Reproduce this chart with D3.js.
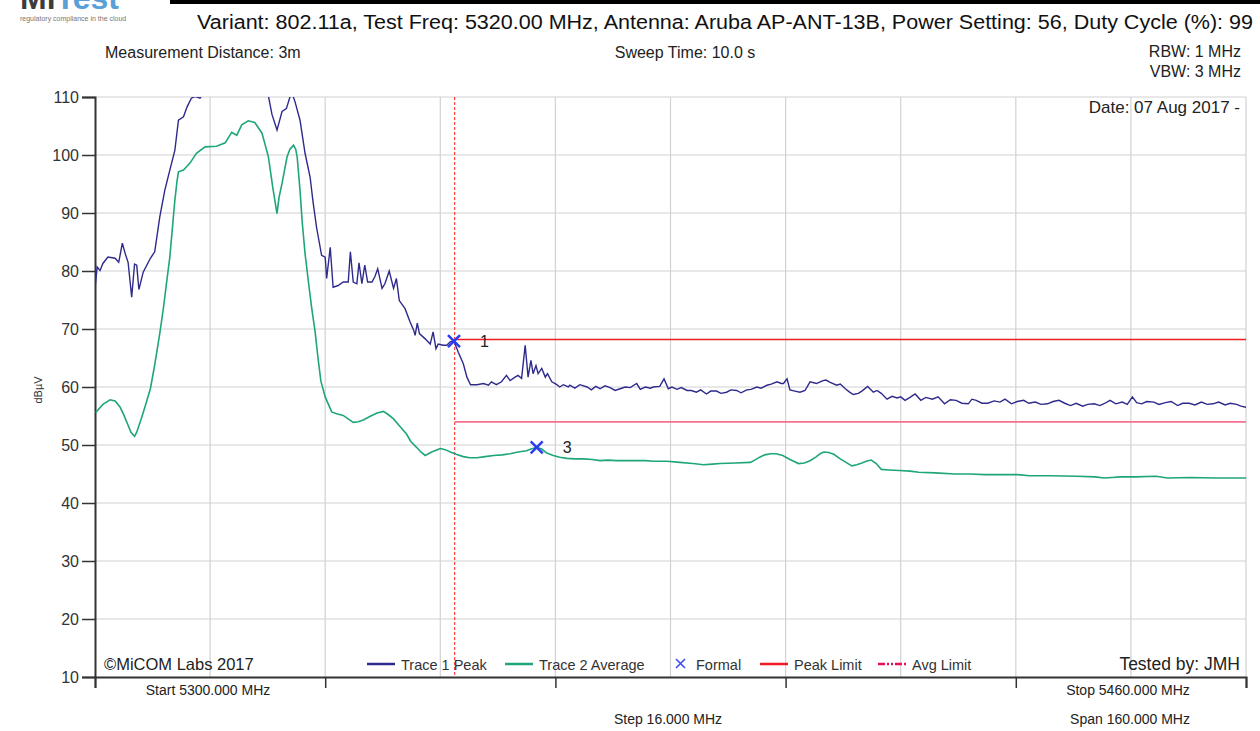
<!DOCTYPE html>
<html>
<head>
<meta charset="utf-8">
<script src="https://cdn.jsdelivr.net/npm/d3@7/dist/d3.min.js"></script>
<style>
body { margin: 0; background: #fff; }
svg text { font-family: "Liberation Sans", Arial, sans-serif; }
</style>
</head>
<body>
<script>

// Trace 1 Peak (MHz, dBuV)
var peakFreq = [5300.0,5300.3,5300.7,5301.1,5301.8,5302.8,5303.3,5303.8,5304.2,5304.6,5305.1,5305.5,5305.8,5306.1,5306.7,5307.7,5308.3,5309.0,5309.7,5310.4,5311.1,5311.6,5312.3,5312.8,5313.4,5313.9,5314.6,5315.2,5316.5,5318.5,5320.5,5322.5,5323.6,5324.1,5324.6,5325.3,5326.0,5326.6,5327.1,5327.4,5327.8,5328.5,5329.2,5329.9,5330.3,5330.8,5331.5,5332.0,5332.2,5332.7,5333.1,5333.8,5334.5,5335.2,5335.5,5335.9,5336.4,5336.7,5337.1,5337.5,5337.9,5338.5,5338.9,5339.3,5339.9,5340.3,5340.9,5341.5,5341.9,5342.3,5343.1,5343.8,5344.3,5344.5,5344.8,5345.1,5345.9,5346.6,5347.0,5347.4,5347.7,5348.4,5348.9,5349.4,5349.9,5350.5,5351.2,5351.7,5352.2,5353.1,5354.0,5354.7,5355.1,5355.8,5356.5,5357.2,5357.7,5358.4,5358.8,5359.3,5359.8,5360.2,5360.6,5360.9,5361.3,5361.6,5362.1,5362.6,5362.9,5363.5,5364.2,5364.6,5365.1,5365.8,5366.0,5366.7,5367.4,5368.4,5369.0,5369.6,5370.2,5370.9,5371.6,5372.3,5373.0,5373.7,5374.4,5375.3,5375.8,5376.5,5377.2,5377.6,5378.5,5379.1,5379.7,5380.2,5380.9,5381.5,5382.3,5382.9,5383.6,5384.2,5385.0,5385.6,5386.4,5387.0,5387.8,5388.4,5389.2,5389.8,5390.6,5391.2,5392.0,5392.6,5393.4,5394.0,5394.8,5395.4,5395.7,5396.2,5396.6,5397.3,5398.0,5398.7,5399.4,5400.3,5400.8,5401.2,5401.6,5402.2,5403.1,5403.6,5404.3,5404.8,5405.4,5406.1,5406.6,5407.4,5408.2,5408.7,5409.3,5410.1,5410.8,5411.5,5412.0,5412.6,5413.3,5414.0,5414.8,5415.5,5416.4,5417.2,5418.1,5418.9,5419.7,5420.5,5421.4,5421.9,5422.5,5423.3,5424.1,5425.0,5425.8,5426.5,5427.4,5428.2,5429.1,5429.8,5430.7,5431.5,5432.4,5433.2,5434.0,5434.8,5435.6,5436.4,5437.3,5438.0,5438.9,5439.7,5440.4,5441.1,5441.9,5442.8,5443.5,5444.2,5444.8,5445.5,5446.2,5447.2,5447.9,5448.8,5449.6,5450.5,5451.2,5452.1,5452.9,5453.8,5454.6,5455.4,5456.2,5457.1,5457.8,5458.7,5459.3,5460.0];
var peakLevel = [77.0,80.7,80.1,81.3,82.4,82.2,81.5,84.8,83.0,81.5,75.5,81.2,81.0,76.8,79.8,82.2,83.3,89.3,93.9,97.4,100.8,106.0,106.6,108.3,109.8,110.1,109.8,111.0,113.5,115.0,115.5,114.0,111.5,110.2,107.0,104.3,107.5,108.0,110.0,110.6,109.2,106.0,100.3,96.2,92.0,87.5,82.7,82.4,78.7,84.1,77.2,77.5,78.1,78.1,83.3,78.1,77.8,81.4,77.8,81.0,78.1,78.1,79.0,80.4,77.0,77.8,80.0,77.0,78.7,74.9,73.5,71.2,69.8,68.9,71.0,69.2,68.3,67.4,69.5,66.6,67.4,67.2,67.2,67.8,67.9,66.0,64.0,61.7,60.4,60.4,60.6,60.3,60.9,60.4,60.9,62.0,61.1,61.7,62.0,61.5,67.2,61.7,64.6,62.3,63.7,62.3,63.2,61.7,62.3,60.9,60.4,60.0,60.4,60.0,60.3,59.8,60.4,60.0,59.5,60.1,59.7,60.2,59.9,59.4,59.7,60.0,59.9,60.6,59.6,60.0,59.8,60.0,60.1,61.4,59.7,60.0,59.6,59.9,59.4,59.4,59.1,59.5,58.8,59.3,59.3,58.9,59.1,59.5,59.4,59.0,59.5,59.6,60.0,59.8,60.3,60.5,60.9,60.6,60.6,61.4,59.5,59.3,59.1,59.4,60.9,60.6,60.9,61.1,61.2,60.8,60.3,60.5,59.7,59.2,58.7,58.9,59.3,60.1,59.1,59.4,58.9,57.9,58.4,58.1,58.3,57.7,58.2,58.8,57.7,58.2,57.9,58.3,57.1,57.8,57.7,57.2,57.1,57.9,57.7,57.2,57.2,57.6,57.4,57.9,57.1,57.5,57.7,57.2,57.4,57.0,57.1,57.5,57.7,57.2,56.8,57.2,56.7,57.0,57.1,56.8,57.2,57.7,57.1,57.4,57.0,58.3,57.3,57.1,57.5,57.4,57.0,57.3,57.5,56.8,57.2,57.2,56.9,57.4,57.0,57.1,57.4,56.9,57.2,57.0,56.7,56.5];

// Trace 2 Average (MHz, dBuV)
var avgFreq = [5300.1,5301.1,5302.1,5302.8,5303.5,5304.0,5304.6,5305.0,5305.5,5305.8,5306.5,5307.1,5307.7,5308.3,5309.0,5309.5,5309.9,5310.4,5310.8,5311.1,5311.4,5311.6,5312.3,5313.2,5314.1,5315.3,5316.9,5318.1,5319.0,5319.7,5320.4,5321.3,5322.2,5323.2,5323.6,5324.1,5324.7,5325.3,5325.6,5326.0,5326.7,5327.1,5327.6,5327.9,5328.1,5328.5,5328.8,5329.2,5329.7,5330.1,5330.6,5331.0,5331.4,5332.0,5332.9,5333.6,5334.5,5335.9,5336.6,5337.3,5338.2,5339.2,5340.1,5340.7,5341.5,5342.4,5343.3,5343.9,5344.7,5345.3,5345.9,5346.8,5347.4,5348.0,5348.7,5349.4,5350.2,5351.2,5352.1,5353.1,5354.2,5355.4,5356.6,5357.7,5358.8,5360.0,5360.6,5361.4,5362.1,5362.8,5363.7,5364.6,5365.6,5366.7,5367.9,5369.1,5370.2,5371.3,5372.5,5373.7,5374.8,5376.5,5377.6,5379.5,5381.3,5383.1,5384.6,5385.8,5386.9,5389.0,5391.1,5391.7,5392.4,5393.1,5393.9,5394.7,5395.6,5396.6,5397.8,5398.6,5399.4,5400.2,5400.8,5401.3,5402.0,5402.7,5403.6,5404.4,5405.2,5405.9,5406.6,5407.2,5407.9,5408.6,5409.3,5410.4,5411.8,5413.3,5414.5,5416.8,5419.5,5421.6,5423.7,5425.8,5428.3,5429.9,5432.8,5436.5,5439.0,5440.3,5441.4,5442.5,5444.6,5447.5,5449.1,5452.2,5455.7,5460.0];
var avgLevel = [55.6,57.0,57.8,57.6,56.5,55.2,53.4,52.2,51.5,52.2,54.8,57.2,59.7,63.8,69.2,73.5,77.5,82.4,88.0,92.2,95.5,97.1,97.4,98.6,100.3,101.4,101.5,102.1,103.9,103.4,105.2,105.9,105.6,103.8,102.0,99.7,94.5,89.9,92.8,95.1,99.7,101.0,101.7,101.0,99.7,93.9,88.5,83.0,77.8,73.8,69.5,65.0,61.0,58.3,55.7,55.4,55.1,53.9,54.0,54.3,54.9,55.5,55.8,55.3,54.5,53.2,51.9,50.6,49.6,48.8,48.2,48.8,49.1,49.4,49.2,48.8,48.4,48.0,47.8,47.8,48.0,48.2,48.3,48.5,48.8,49.0,49.3,49.6,49.3,48.6,48.2,47.9,47.7,47.6,47.6,47.5,47.3,47.4,47.3,47.3,47.3,47.3,47.2,47.2,47.0,46.8,46.6,46.7,46.8,46.9,47.0,47.4,47.9,48.3,48.5,48.5,48.2,47.5,46.8,46.9,47.3,47.9,48.5,48.8,48.7,48.4,47.6,47.0,46.4,46.6,46.9,47.2,47.4,46.8,45.8,45.7,45.6,45.5,45.3,45.2,45.0,45.0,44.9,44.9,44.9,44.7,44.7,44.6,44.5,44.3,44.4,44.5,44.5,44.6,44.3,44.4,44.3,44.3];

// limits and markers
var limitStart = 5350;
var peakLimit = 68.2;
var avgLimit = 54.0;
var markerFreq = [5349.9, 5361.4];
var markerLevel = [67.9, 49.6];
var markerNames = ["1", "3"];

// axes
var yTicks = [10, 20, 30, 40, 50, 60, 70, 80, 90, 100, 110];
var gridFreqs = [5316, 5332, 5348, 5364, 5380, 5396, 5412, 5428, 5444, 5460];
var axisFreqs = [5300, 5332, 5364, 5396, 5428, 5460];

var legendNames = ["Trace 1 Peak", "Trace 2 Average", "Formal", "Peak Limit", "Avg Limit"];

var peakColor = "#2e2a8c";
var avgColor = "#1fa57c";

var svg = d3.select("body").append("svg")
    .attr("width", 1260)
    .attr("height", 731);

var x = d3.scaleLinear().domain([5300, 5460]).range([95, 1246]);
var y = d3.scaleLinear().domain([10, 110]).range([677, 97]);

// logo and header
var logo = svg.append("text").attr("x", 20).attr("y", 9)
    .attr("font-size", 32).attr("font-weight", "bold");
logo.append("tspan").attr("fill", "#3c3c3c").text("Mi");
logo.append("tspan").attr("fill", "#5aa0d8").text("Test");
svg.append("text").attr("x", 20).attr("y", 21).attr("font-size", 7)
    .attr("fill", "#777").text("regulatory compliance in the cloud");

svg.append("rect").attr("x", 170).attr("y", 0).attr("width", 1090).attr("height", 4).attr("fill", "#000");

svg.append("text").attr("x", 197).attr("y", 29).attr("font-size", 20).attr("fill", "#111")
    .attr("textLength", 1056).attr("lengthAdjust", "spacingAndGlyphs")
    .text("Variant: 802.11a, Test Freq: 5320.00 MHz, Antenna: Aruba AP-ANT-13B, Power Setting: 56, Duty Cycle (%): 99");

svg.append("text").attr("x", 105).attr("y", 58).attr("font-size", 16).attr("fill", "#222")
    .text("Measurement Distance: 3m");
svg.append("text").attr("x", 685).attr("y", 58).attr("font-size", 16).attr("fill", "#222")
    .attr("text-anchor", "middle").text("Sweep Time: 10.0 s");
svg.append("text").attr("x", 1241).attr("y", 57).attr("font-size", 16).attr("fill", "#222")
    .attr("text-anchor", "end").text("RBW: 1 MHz");
svg.append("text").attr("x", 1241).attr("y", 77).attr("font-size", 16).attr("fill", "#222")
    .attr("text-anchor", "end").text("VBW: 3 MHz");

// grid
svg.selectAll(".hgrid")
    .data(yTicks.slice(1))
    .enter().append("line")
        .attr("class", "hgrid")
        .attr("x1", 95).attr("x2", 1246)
        .attr("y1", function(d) {return y(d)})
        .attr("y2", function(d) {return y(d)})
        .attr("stroke", "#d2d2d2").attr("stroke-width", 1.2);

svg.selectAll(".vgrid")
    .data(gridFreqs)
    .enter().append("line")
        .attr("class", "vgrid")
        .attr("x1", function(d) {return x(d)})
        .attr("x2", function(d) {return x(d)})
        .attr("y1", 97).attr("y2", 677)
        .attr("stroke", "#d2d2d2").attr("stroke-width", 1.2);

// axes
var yAxis = svg.append("g").attr("transform", "translate(95,0)")
    .call(d3.axisLeft(y).tickValues(yTicks).tickSize(13).tickPadding(3));
yAxis.select(".domain").attr("stroke", "#333").attr("stroke-width", 2);
yAxis.selectAll(".tick line").attr("stroke", "#333").attr("stroke-width", 1.5);
yAxis.selectAll("text").attr("font-size", 16).attr("fill", "#333")
    .attr("font-family", "Liberation Sans, Arial, sans-serif");

var xAxis = svg.append("g").attr("transform", "translate(0,677)")
    .call(d3.axisBottom(x).tickValues(axisFreqs).tickSize(11).tickFormat(""));
xAxis.select(".domain").attr("stroke", "#333").attr("stroke-width", 2);
xAxis.selectAll(".tick line").attr("stroke", "#333").attr("stroke-width", 1.5);

svg.append("text").attr("transform", "translate(42,390) rotate(-90)")
    .attr("text-anchor", "middle").attr("font-size", 11).attr("fill", "#333").text("dBµV");

// clip
svg.append("clipPath").attr("id", "plot")
    .append("rect").attr("x", 95).attr("y", 97).attr("width", 1151).attr("height", 580);

var plot = svg.append("g").attr("clip-path", "url(#plot)");

// limits
plot.append("line")
    .attr("x1", x(limitStart)).attr("x2", x(limitStart))
    .attr("y1", 97).attr("y2", 677)
    .attr("stroke", "#ff1a1a").attr("stroke-width", 1).attr("stroke-dasharray", "3,2");
plot.append("line")
    .attr("x1", x(limitStart)).attr("x2", x(5460))
    .attr("y1", y(peakLimit)).attr("y2", y(peakLimit))
    .attr("stroke", "#f01c24").attr("stroke-width", 1.5);
plot.append("line")
    .attr("x1", x(limitStart)).attr("x2", x(5460))
    .attr("y1", y(avgLimit)).attr("y2", y(avgLimit))
    .attr("stroke", "#f4708c").attr("stroke-width", 1.8);

// traces
var peakLine = d3.line()
    .x(function(d, i) {return x(peakFreq[i])})
    .y(function(d) {return y(d)});
var avgLine = d3.line()
    .x(function(d, i) {return x(avgFreq[i])})
    .y(function(d) {return y(d)});

plot.append("path").datum(avgLevel)
    .attr("d", avgLine).attr("fill", "none")
    .attr("stroke", avgColor).attr("stroke-width", 1.6);
plot.append("path").datum(peakLevel)
    .attr("d", peakLine).attr("fill", "none")
    .attr("stroke", peakColor).attr("stroke-width", 1.4);

// markers
svg.selectAll(".marker")
    .data(markerFreq)
    .enter().append("path")
        .attr("class", "marker")
        .attr("transform", function(d, i) {return "translate(" + x(d) + "," + y(markerLevel[i]) + ")"})
        .attr("d", "M-6,-6L6,6M-6,6L6,-6")
        .attr("stroke", "#2a3cf0").attr("stroke-width", 2.5);
svg.selectAll(".mlabel")
    .data(markerNames)
    .enter().append("text")
        .attr("class", "mlabel")
        .text(function(d) {return d})
        .attr("x", function(d, i) {return x(markerFreq[i]) + 26})
        .attr("y", function(d, i) {return y(markerLevel[i]) + 6})
        .attr("font-size", 16).attr("fill", "#222");

// texts inside plot
svg.append("text").attr("x", 1240).attr("y", 113).attr("font-size", 17).attr("fill", "#222")
    .attr("text-anchor", "end").text("Date: 07 Aug 2017 -");
svg.append("text").attr("x", 104).attr("y", 670).attr("font-size", 16.5).attr("fill", "#222")
    .text("©MiCOM Labs 2017");
svg.append("text").attr("x", 1240).attr("y", 670).attr("font-size", 17.5).attr("fill", "#222")
    .attr("text-anchor", "end").text("Tested by: JMH");

// legend
var legendX = [367, 505, 668, 760, 878];
var lg = svg.selectAll(".legend")
    .data(legendNames)
    .enter().append("g")
        .attr("class", "legend")
        .attr("transform", function(d, i) {return "translate(" + legendX[i] + ",664)"});
lg.append("text")
    .text(function(d) {return d})
    .attr("x", function(d, i) {return i == 2 ? 28 : 34})
    .attr("y", 5.5)
    .attr("font-size", 14.5).attr("fill", "#333");
lg.filter(function(d, i) {return i != 2}).append("line")
    .attr("x1", 0).attr("x2", 28).attr("y1", 0).attr("y2", 0)
    .attr("stroke", function(d, i) {return [peakColor, avgColor, "#f01c24", "#e8105a"][i]})
    .attr("stroke-width", 2.5)
    .attr("stroke-dasharray", function(d, i) {return i == 3 ? "7,2,2,2,2,2" : null});
lg.filter(function(d, i) {return i == 2}).append("path")
    .attr("d", "M8,-5L17,4M8,4L17,-5")
    .attr("stroke", "#3a4cf0").attr("stroke-width", 1.6);

// bottom labels
var bottom = [["Start 5300.000 MHz", 208, 695], ["Stop 5460.000 MHz", 1128, 695],
              ["Step 16.000 MHz", 668, 724], ["Span 160.000 MHz", 1130, 724]];
svg.selectAll(".blabel")
    .data(bottom)
    .enter().append("text")
        .attr("class", "blabel")
        .text(function(d) {return d[0]})
        .attr("x", function(d) {return d[1]})
        .attr("y", function(d) {return d[2]})
        .attr("text-anchor", "middle")
        .attr("font-size", 14).attr("fill", "#222");

</script>
</body>
</html>
